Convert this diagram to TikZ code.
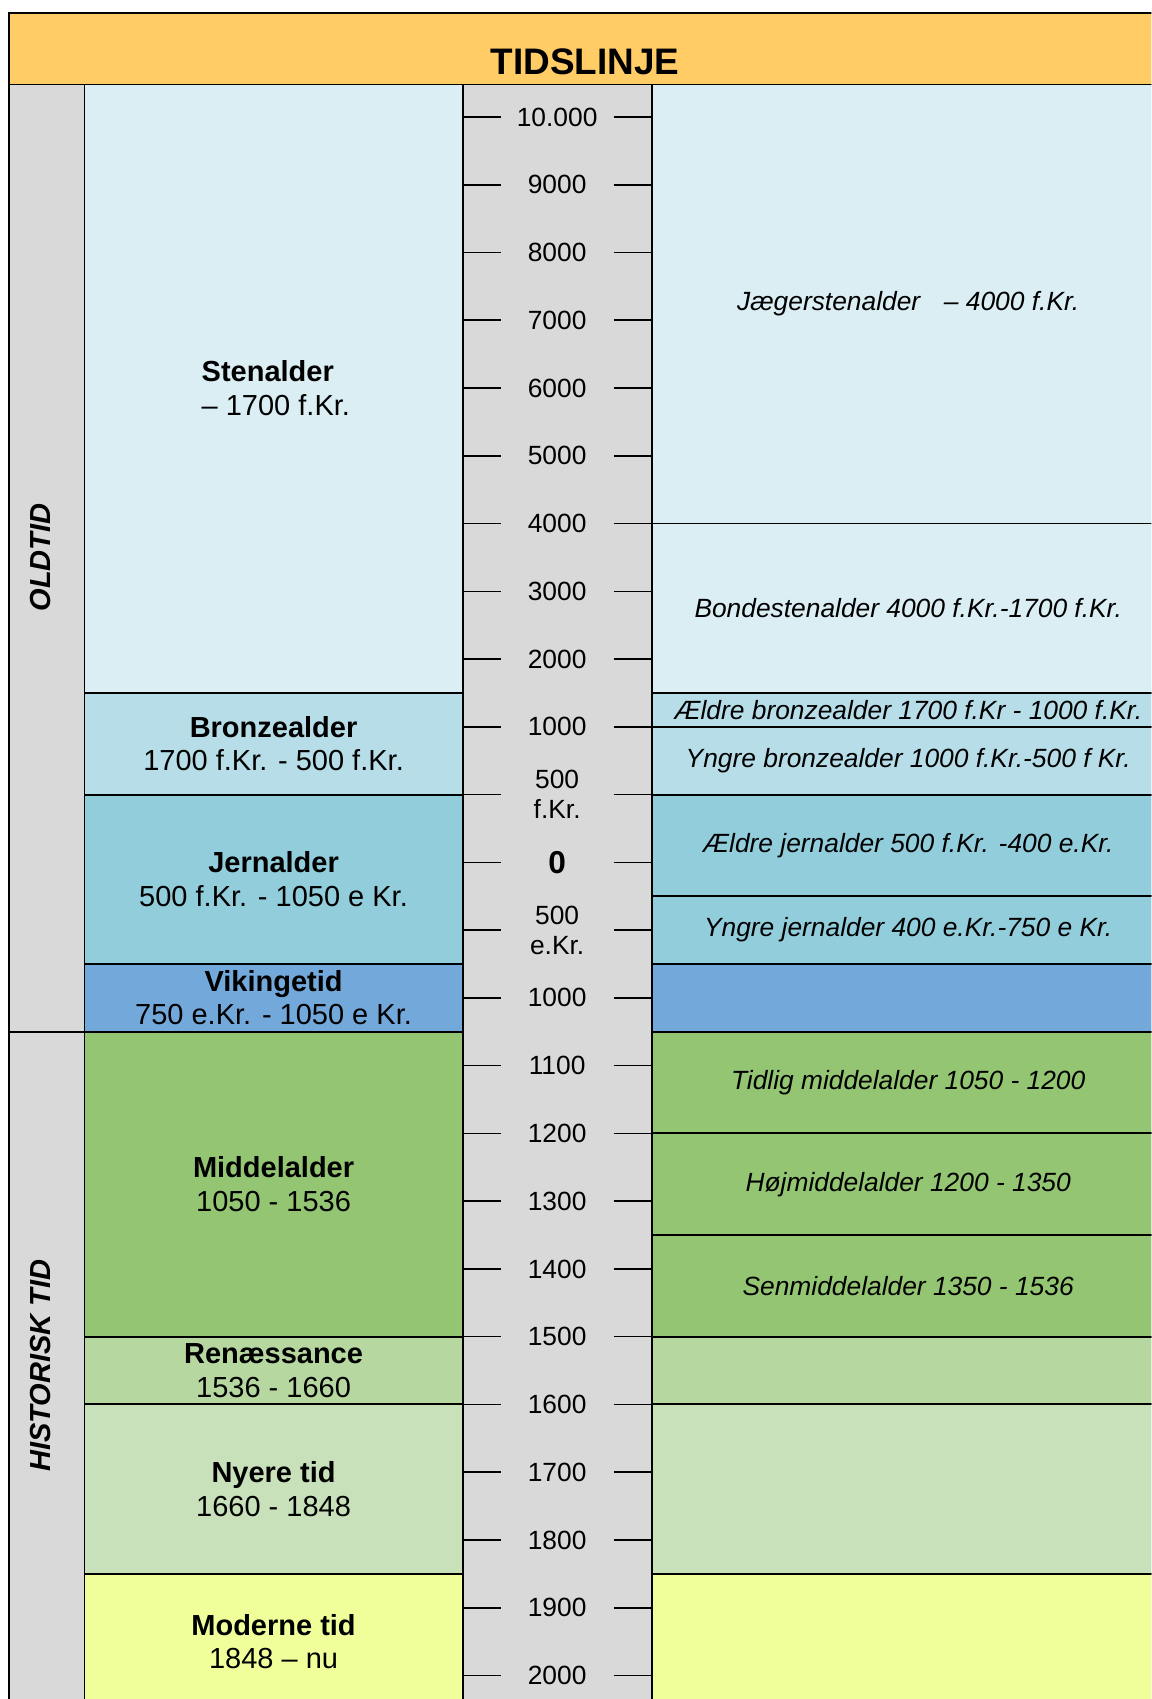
\documentclass[tikz,border=0pt]{standalone}
\usepackage{fontspec}
\setmainfont{Liberation Sans}
\usetikzlibrary{positioning}
\definecolor{hdr}{HTML}{FFCC66}
\definecolor{grey}{HTML}{D9D9D9}
\definecolor{sten}{HTML}{DAEEF3}
\definecolor{bronze}{HTML}{B7DEE8}
\definecolor{jern}{HTML}{92CDDC}
\definecolor{viking}{HTML}{73A8DB}
\definecolor{middel}{HTML}{93C572}
\definecolor{renais}{HTML}{B6D8A0}
\definecolor{nyere}{HTML}{C9E1BA}
\definecolor{moderne}{HTML}{F0FF99}
\tikzset{
  tline/.style={line width=0.9pt},
  cell/.style={draw, line width=1.1pt},
  era/.style={align=center, inner sep=0pt, font=\fontsize{16.5}{19}\selectfont},
  sub/.style={align=center, inner sep=0pt, font=\fontsize{15}{18}\selectfont\itshape},
  yr/.style={align=center, inner sep=0pt, font=\fontsize{15}{17}\selectfont},
  side/.style={rotate=90, inner sep=0pt, font=\fontsize{16.5}{19}\selectfont\bfseries\itshape}
}
\begin{document}
\begin{tikzpicture}[x=0.02cm, y=-1.3552cm, tline]
\useasboundingbox (0,-1.7267) rectangle (1151,23.347);
\clip (0,-1.7267) rectangle (1151,23.347);

% header
\filldraw[cell, fill=hdr] (8.7,-1.535) rectangle (1170,-0.48);
\node[font=\fontsize{21}{25}\selectfont\bfseries] (title) at (585,-0.81) {TIDSLINJE};

% left column
\filldraw[cell, fill=grey] (8.7,-0.48) rectangle (84.5,13.5);
\filldraw[cell, fill=grey] (8.7,13.5) rectangle (84.5,24);
\node[side] (oldtid) at (41,6.5) {OLDTID};
\node[side] (histtid) at (41,18.43) {HISTORISK TID};

% periods
\foreach \ya/\yb/\col in {-0.48/8.5/sten, 8.5/10/bronze, 10/12.5/jern, 12.5/13.5/viking,
    13.5/18/middel, 18/19/renais, 19/21.5/nyere, 21.5/23.5/moderne}
  \filldraw[cell, fill=\col] (84.5,\ya) rectangle (462.8,\yb);

\node[era, align=left] (stenalder) at (275.8,4.0) {\textbf{Stenalder}\\– 1700 f.Kr.};
\node[era] (bronzealder) at (273.5,9.25) {\textbf{Bronzealder}\\1700 f.Kr. - 500 f.Kr.};
\node[era] (jernalder) at (273.5,11.25) {\textbf{Jernalder}\\500 f.Kr. - 1050 e Kr.};
\node[era] (vikingetid) at (273.5,13.0) {\textbf{Vikingetid}\\750 e.Kr. - 1050 e Kr.};
\node[era] (middelalder) at (273.5,15.75) {\textbf{Middelalder}\\1050 - 1536};
\node[era] (renaessance) at (273.5,18.5) {\textbf{Renæssance}\\1536 - 1660};
\node[era] (nyeretid) at (273.5,20.25) {\textbf{Nyere tid}\\1660 - 1848};
\node[era] (modernetid) at (273.5,22.5) {\textbf{Moderne tid}\\1848 – nu};

% scale
\filldraw[cell, fill=grey] (462.8,-0.48) rectangle (651.4,24);
\foreach \lab [count=\i from 0] in {10.000, 9000, 8000, 7000, 6000, 5000, 4000, 3000, 2000, 1000,
    {500\\f.Kr.}, {\fontsize{18}{20}\selectfont\bfseries 0}, {500\\e.Kr.}, 1000, 1100, 1200, 1300, 1400,
    1500, 1600, 1700, 1800, 1900, 2000} {
  \draw (462.8,\i) -- (500.7,\i);
  \draw (613.4,\i) -- (651.4,\i);
  \node[yr] (yr\i) at (557,\i) {\lab};
}

% sub periods
\foreach \ya/\yb/\col in {-0.48/8.5/sten, 8.5/9/bronze, 9/10/bronze, 10/11.5/jern,
    11.5/12.5/jern, 12.5/13.5/viking, 13.5/15/middel, 15/16.5/middel, 16.5/18/middel,
    18/19/renais, 19/21.5/nyere, 21.5/23.5/moderne}
  \filldraw[cell, fill=\col] (651.4,\ya) rectangle (1170,\yb);
\draw (651.4,6) -- (1170,6);

\node[sub] (jaeger) at (908,2.76) {Jægerstenalder\hspace{0.9em}– 4000 f.Kr.};
\node[sub] (bonde) at (908,7.25) {Bondestenalder 4000 f.Kr.-1700 f.Kr.};
\node[sub] (aeldrebronze) at (908,8.75) {Ældre bronzealder 1700 f.Kr - 1000 f.Kr.};
\node[sub] (yngrebronze) at (908,9.5) {Yngre bronzealder 1000 f.Kr.-500 f Kr.};
\node[sub] (aeldrejern) at (908,10.75) {Ældre jernalder 500 f.Kr. -400 e.Kr.};
\node[sub] (yngrejern) at (908,12.0) {Yngre jernalder 400 e.Kr.-750 e Kr.};
\node[sub] (tidlig) at (908,14.25) {Tidlig middelalder 1050 - 1200};
\node[sub] (hoej) at (908,15.75) {Højmiddelalder 1200 - 1350};
\node[sub] (sen) at (908,17.25) {Senmiddelalder 1350 - 1536};

\end{tikzpicture}
\end{document}
